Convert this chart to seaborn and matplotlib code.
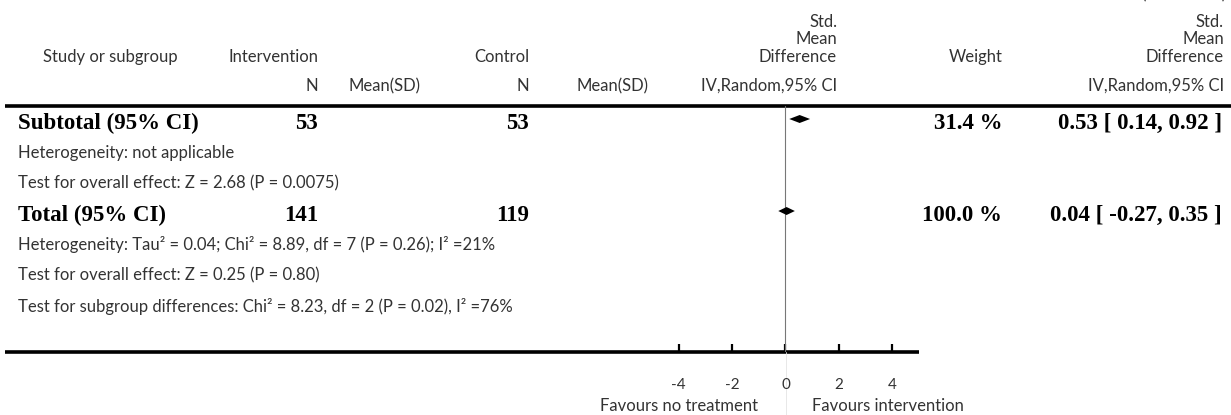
import matplotlib
matplotlib.use("Agg")
import matplotlib.pyplot as plt
import seaborn as sns

# Summary rows of the forest plot
summary_labels = ["Subtotal (95% CI)", "Total (95% CI)"]
summary_rows = [0, 3]
n_intervention = [53, 141]
n_control = [53, 119]
weights = [31.4, 100.0]
smd = [0.53, 0.04]
ci_low = [0.14, -0.27]
ci_high = [0.92, 0.35]

# Plain text rows (row index, text)
note_rows = [1, 2, 4, 5, 6]
note_texts = [
    "Heterogeneity: not applicable",
    "Test for overall effect: Z = 2.68 (P = 0.0075)",
    "Heterogeneity: Tau² = 0.04; Chi² = 8.89, df = 7 (P = 0.26); I² =21%",
    "Test for overall effect: Z = 0.25 (P = 0.80)",
    "Test for subgroup differences: Chi² = 8.23, df = 2 (P = 0.02), I² =76%",
]

x_ticks = [-4, -2, 0, 2, 4]
favours_left = "Favours no treatment"
favours_right = "Favours intervention"

sns.set_theme(style="white")
plt.rcParams["font.family"] = ["Lato", "DejaVu Sans"]

W, H = 1231, 415
fig = plt.figure(figsize=(W / 100, H / 100), dpi=100)

# background axes in pixel coordinates for the table layout
bg = fig.add_axes([0, 0, 1, 1])
bg.set_xlim(0, W)
bg.set_ylim(H, 0)
bg.axis("off")

# forest axes: zero at x=785.5, 26.7 px per unit; rows 30.67 px apart from y=119
x0, ppu = 785.5, 26.7
top, bottom = 106, 352
row0, pitch = 119, 30.67
ax = fig.add_axes([(x0 - 5 * ppu) / W, 1 - bottom / H, 10 * ppu / W, (bottom - top) / H])
ax.set_xlim(-5, 5)
ax.set_ylim((bottom - row0) / pitch, (top - row0) / pitch)
ax.patch.set_alpha(0)
sns.despine(ax=ax, left=True, bottom=True)
ax.set_yticks([])
ax.set_xticks(x_ticks)
ax.set_xticklabels([str(t) for t in x_ticks], fontsize=11, color="#333333")
ax.tick_params(axis="x", direction="in", length=6, width=1.6, pad=19, color="black", bottom=True)
ax.axvline(0, color="#777777", lw=0.8, zorder=1)

for r, m, lo, hi in zip(summary_rows, smd, ci_low, ci_high):
    h = 0.13
    ax.fill([lo, m, hi, m], [r, r - h, r, r + h], color="black", zorder=3, lw=0)

# rules
bg.plot([5, W], [top, top], color="black", lw=2.6, solid_capstyle="butt")
bg.plot([5, x0 + 5 * ppu], [bottom, bottom], color="black", lw=2.6, solid_capstyle="butt")
bg.plot([x0, x0], [bottom, H], color="#e4e4e4", lw=0.6)

# header
hf = dict(fontsize=12, color="#333333")
bg.text(110, 57, "Study or subgroup", ha="center", va="center", **hf)
bg.text(318, 57, "Intervention", ha="right", va="center", **hf)
bg.text(529, 57, "Control", ha="right", va="center", **hf)
bg.text(976, 57, "Weight", ha="center", va="center", **hf)
for xr in (837, 1224):
    bg.text(xr, 22, "Std.", ha="right", va="center", **hf)
    bg.text(xr, 39, "Mean", ha="right", va="center", **hf)
    bg.text(xr, 57, "Difference", ha="right", va="center", **hf)
    bg.text(xr, 86, "IV,Random,95% CI", ha="right", va="center", **hf)
bg.text(318, 86, "N", ha="right", va="center", **hf)
bg.text(385, 86, "Mean(SD)", ha="center", va="center", **hf)
bg.text(529, 86, "N", ha="right", va="center", **hf)
bg.text(613, 86, "Mean(SD)", ha="center", va="center", **hf)
bg.text(1226, -1, "(Continued)", ha="right", va="baseline", **hf)

# summary rows
bf = dict(fontsize=16.5, fontweight="bold", family="Liberation Serif", color="black")
for r, lab, ni, nc, w, m, lo, hi in zip(summary_rows, summary_labels, n_intervention,
                                        n_control, weights, smd, ci_low, ci_high):
    y = row0 + pitch * r + 4
    bg.text(18, y, lab, ha="left", va="center", **bf)
    bg.text(318, y, str(ni), ha="right", va="center", **bf)
    bg.text(529, y, str(nc), ha="right", va="center", **bf)
    bg.text(1002, y, f"{w:.1f} %", ha="right", va="center", **bf)
    bg.text(1222, y, f"{m:.2f} [ {lo:.2f}, {hi:.2f} ]", ha="right", va="center", **bf)

nf = dict(fontsize=12, color="#333333")
for r, t in zip(note_rows, note_texts):
    bg.text(18, row0 + pitch * r + 3, t, ha="left", va="center", **nf)

bg.text(x0 - 28, 406, favours_left, ha="right", va="center", **nf)
bg.text(x0 + 27, 406, favours_right, ha="left", va="center", **nf)

fig.savefig("out.png", dpi=100)
